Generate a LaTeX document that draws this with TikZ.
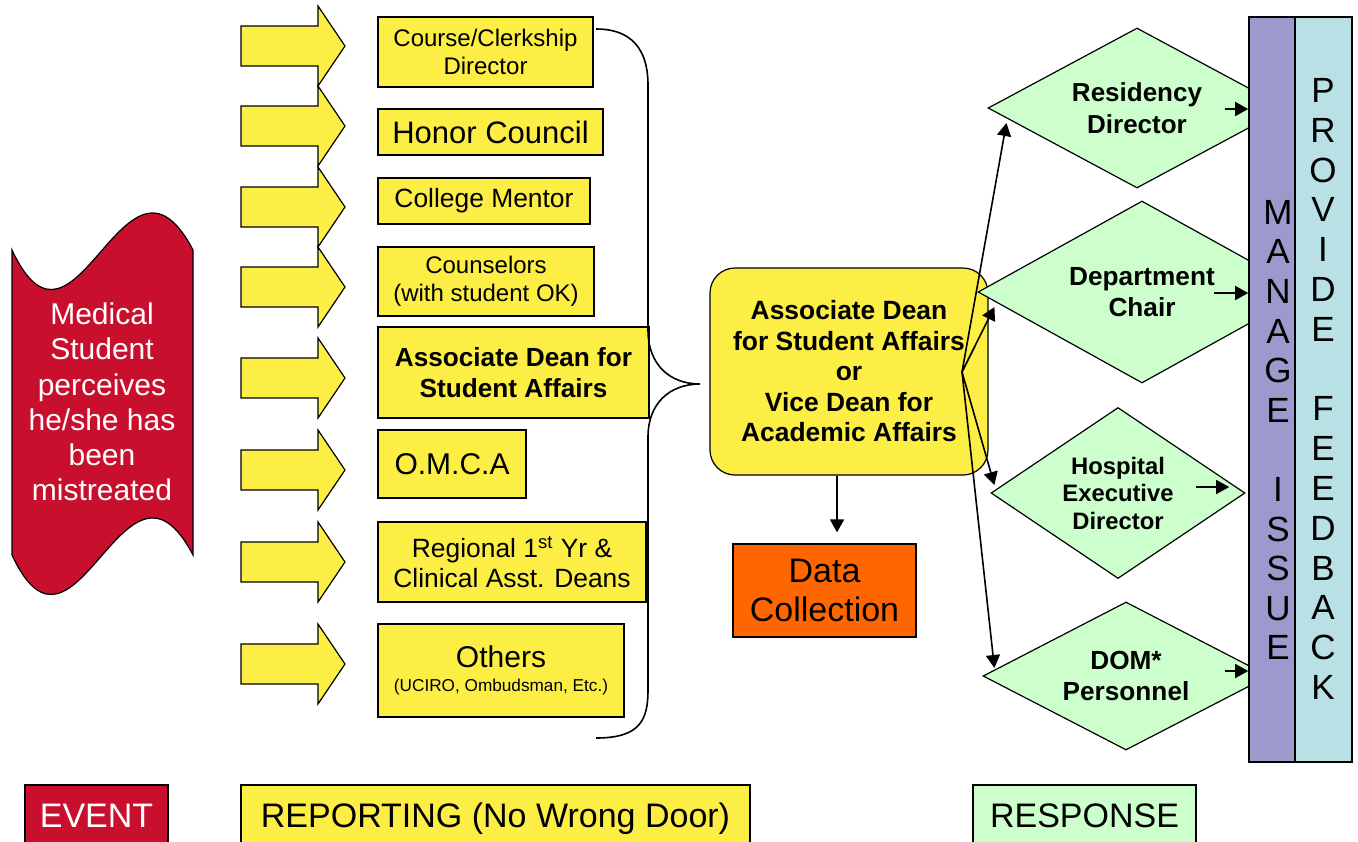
\documentclass[tikz,border=0pt]{standalone}
\usepackage{fontspec}
\setmainfont{Liberation Sans}
\usetikzlibrary{shapes.geometric,arrows.meta}

\definecolor{vermelho}{RGB}{200,16,46}
\definecolor{amarelo}{RGB}{252,238,68}
\definecolor{verde}{RGB}{204,255,204}
\definecolor{laranja}{RGB}{255,102,0}
\definecolor{roxo}{RGB}{156,154,204}
\definecolor{ciano}{RGB}{185,224,228}
\newcommand{\tam}[2]{\fontsize{#1}{#2}\selectfont}

\begin{document}
\begin{tikzpicture}[x=0.5pt,y=-0.5pt,
    caixa/.style={draw, fill=amarelo, line width=0.6pt, inner sep=0pt, align=center},
    losango/.style={diamond, draw, fill=verde, line width=0.6pt, aspect=1.8, inner sep=0pt, align=center},
    barra/.style={draw, line width=0.8pt, inner sep=0pt, minimum height=372.5pt},
    seta/.style={-{Triangle[length=6.5pt,width=7pt]}, line width=0.8pt},
    legenda/.style={draw, line width=0.6pt, inner sep=0pt, minimum height=30pt, text height=12.2pt, text depth=0pt, font=\tam{17}{20}}]

        \useasboundingbox (0,0) rectangle (1358,841);

        % Evento
        \draw[fill=vermelho, line width=0.6pt] (12,250) .. controls (75,385) and (125,120) .. (193,250)
            -- (193,555) .. controls (125,425) and (75,690) .. (12,555) -- cycle;
        \node[text=white, align=center, font=\tam{15}{17.6}] (evento) at (102,402)
            {Medical\\Student\\perceives\\he/she has\\been\\mistreated};

        % Setas amarelas
        \foreach \y in {46,126,207,287,378,470,562,664}
            \draw[fill=amarelo, line width=0.6pt] (241,\y-20) -- (318,\y-20) -- (318,\y-40) -- (345,\y)
                -- (318,\y+40) -- (318,\y+20) -- (241,\y+20) -- cycle;

        % Caixas de relato
        \node[caixa, minimum width=107.5pt, minimum height=35pt, font=\tam{12}{14}] (curso) at (485.5,52) {Course/Clerkship\\Director};
        \node[caixa, minimum width=112.5pt, minimum height=23pt, font=\tam{15.5}{18}] (honra) at (490.5,132) {Honor Council};
        \node[caixa, minimum width=106pt, minimum height=23pt, font=\tam{13.2}{16}] (mentor) at (484,201) {College Mentor};
        \node[caixa, minimum width=108pt, minimum height=34.5pt, font=\tam{12}{14}] (conselho) at (486,281.5) {Counselors\\(with student OK)};
        \node[caixa, minimum width=135.5pt, minimum height=45.5pt, font=\tam{13.1}{15.5}\bfseries] (decano) at (513.5,372.5) {Associate Dean for\\Student Affairs};
        \node[caixa, minimum width=74pt, minimum height=34pt, font=\tam{15}{18}] (omca) at (452,464) {O.M.C.A};
        \node[caixa, minimum width=134pt, minimum height=40pt, font=\tam{13.2}{15}] (regional) at (512,562) {Regional 1\textsuperscript{st} Yr \&\\Clinical Asst. Deans};
        \node[caixa, minimum width=123pt, minimum height=46.5pt, font=\tam{15}{12}] (outros) at (501,670.5) {Others\\{\tam{8.6}{10}(UCIRO, Ombudsman, Etc.)}};

        % Chave
        \draw[line width=0.8pt] (596,29) .. controls (640,29) and (648,60) .. (648,85) -- (648,330)
            .. controls (648,365) and (670,384) .. (700,384) .. controls (670,384) and (648,403) .. (648,437)
            -- (648,690) .. controls (648,720) and (640,738) .. (596,738);

        % Decano central e dados
        \node[caixa, rounded corners=12.5pt, minimum width=139pt, minimum height=103.5pt, font=\tam{13.2}{15.25}\bfseries] (central) at (849,371.5)
            {Associate Dean\\for Student Affairs\\or\\Vice Dean for\\Academic Affairs};
        \node[draw, fill=laranja, line width=0.6pt, minimum width=91.5pt, minimum height=46.5pt, inner sep=0pt, align=center, font=\tam{17}{19.5}] (dados) at (824.5,590.5) {Data\\Collection};
        \draw[seta, shorten >=5.5pt] ([xshift=-6pt]central.south) -- ([xshift=-6pt]central.south |- dados.north);

        % Respostas
        \node[losango, minimum width=149pt, minimum height=80pt, font=\tam{13}{16}\bfseries] (resid) at (1137,108) {Residency\\Director};
        \node[losango, minimum width=164pt, minimum height=91pt, font=\tam{13.1}{15.5}\bfseries] (depto) at (1142,292) {Department\\Chair};
        \node[losango, minimum width=127pt, minimum height=85.5pt, font=\tam{11.9}{13.75}\bfseries] (hosp) at (1118,493) {Hospital\\Executive\\Director};
        \node[losango, minimum width=143pt, minimum height=74pt, font=\tam{13.1}{15.5}\bfseries] (dom) at (1126,676) {DOM*\\Personnel};

        % Barras
        \node[barra, fill=roxo, minimum width=23pt] (gerir) at (1272,389.5) {};
        \node[barra, fill=ciano, minimum width=28.5pt] (feedback) at (1323.5,389.5) {};
        \node[align=center, font=\tam{17.5}{19.8}] (txtgerir) at (1278,430) {M\\A\\N\\A\\G\\E\\\mbox{}\\I\\S\\S\\U\\E};
        \node[align=center, font=\tam{17.5}{19.9}] (txtfeedback) at (1323,389) {P\\R\\O\\V\\I\\D\\E\\\mbox{}\\F\\E\\E\\D\\B\\A\\C\\K};

        % Ligacoes
        \coordinate (origem) at (962,372);
        \draw[seta] (origem) -- ([xshift=9.5pt,yshift=-7.5pt]resid.west);
        \draw[seta] (origem) -- ([xshift=8.5pt,yshift=-7.5pt]depto.west);
        \draw[seta] (origem) -- ([xshift=2pt,yshift=4pt]hosp.west);
        \draw[seta] (origem) -- ([xshift=6pt,yshift=4pt]dom.west);

        \draw[seta] ([xshift=44pt,yshift=-0.5pt]resid.center) -- ([yshift=-0.5pt]resid.center -| gerir.west);
        \draw[seta] ([xshift=36pt,yshift=-0.5pt]depto.center) -- ([yshift=-0.5pt]depto.center -| gerir.west);
        \draw[seta, shorten >=9.5pt] ([xshift=39pt,yshift=3pt]hosp.center) -- ([yshift=3pt]hosp.center -| gerir.west);
        \draw[seta] ([xshift=49.5pt,yshift=2.5pt]dom.center) -- ([yshift=2.5pt]dom.center -| gerir.west);

        % Legenda
        \node[legenda, fill=vermelho, text=white, minimum width=71.5pt] (legevento) at (96.5,815) {EVENT};
        \node[legenda, fill=amarelo, minimum width=254.5pt] (legrelato) at (495.5,815) {REPORTING (No Wrong Door)};
        \node[legenda, fill=verde, minimum width=111.5pt] (legresposta) at (1084.5,815) {RESPONSE};

    \end{tikzpicture}
\end{document}
